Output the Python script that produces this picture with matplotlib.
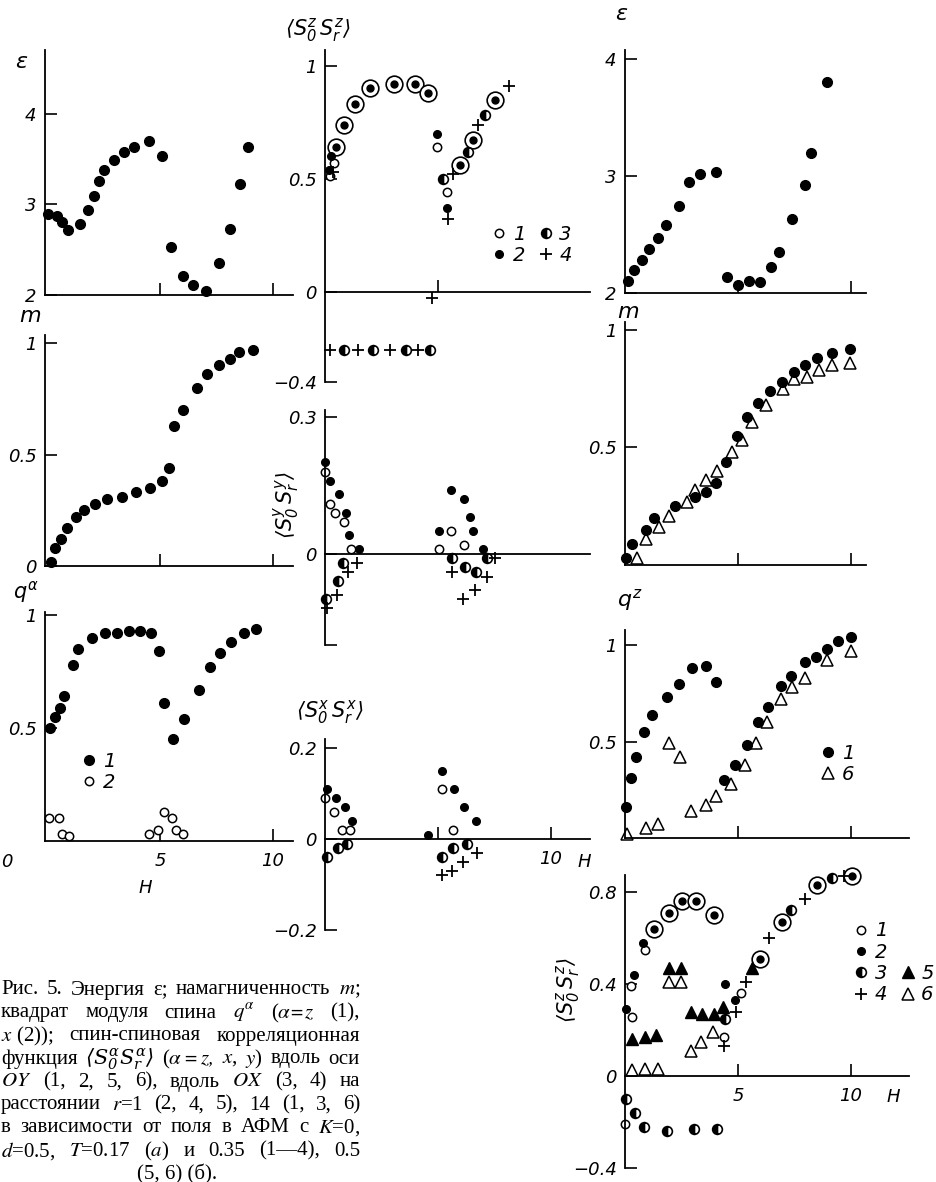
import matplotlib.pyplot as plt
from matplotlib.lines import Line2D

# ---- data (H = field) ----
# (a) T = 0.17 : energy, magnetisation, squared spin modulus
eps_a_h = [0.04, 0.44, 0.66, 0.93, 1.46, 1.81, 2.08, 2.30, 2.52, 2.96, 3.41, 3.85, 4.51, 5.09, 5.49,
           6.02, 6.46, 7.04, 7.61, 8.10, 8.54, 8.89]
eps_a_v = [2.90, 2.87, 2.81, 2.72, 2.78, 2.94, 3.09, 3.26, 3.38, 3.49, 3.58, 3.64, 3.70, 3.54, 2.53,
           2.21, 2.11, 2.04, 2.35, 2.73, 3.23, 3.64]
m_a_h = [0.18, 0.35, 0.62, 0.88, 1.28, 1.64, 2.12, 2.65, 3.32, 3.94, 4.56, 5.09, 5.40, 5.62, 6.02,
         6.64, 7.08, 7.61, 8.10, 8.50, 9.12]
m_a_v = [0.02, 0.08, 0.12, 0.17, 0.22, 0.25, 0.28, 0.30, 0.31, 0.33, 0.35, 0.38, 0.44, 0.63, 0.70,
         0.80, 0.86, 0.90, 0.93, 0.96, 0.97]
qz_a_h = [0.13, 0.35, 0.58, 0.75, 1.15, 1.37, 1.99, 2.57, 3.10, 3.63, 4.12, 4.60, 4.96, 5.18, 5.58,
          6.06, 6.73, 7.21, 7.65, 8.14, 8.72, 9.25]
qz_a_v = [0.50, 0.55, 0.59, 0.64, 0.78, 0.85, 0.90, 0.92, 0.92, 0.93, 0.93, 0.92, 0.84, 0.61, 0.45,
          0.54, 0.67, 0.77, 0.83, 0.88, 0.92, 0.94]
qx_a_h = [0.09, 0.53, 0.66, 0.97, 4.51, 4.91, 5.18, 5.53, 5.71, 6.02]
qx_a_v = [0.10, 0.10, 0.03, 0.02, 0.03, 0.05, 0.13, 0.10, 0.05, 0.03]

# (a) correlation functions <S0^z Sr^z>, curves 1-4; "both" = curves 2 and 3 coincide
zz_both_h = [0.49, 0.84, 1.33, 1.99, 3.05, 3.98, 4.56, 5.97, 6.55, 7.52]
zz_both_v = [0.64, 0.74, 0.83, 0.90, 0.92, 0.92, 0.88, 0.56, 0.67, 0.85]
zz1_h = [0.22, 0.40, 4.96, 5.40]
zz1_v = [0.51, 0.57, 0.64, 0.44]
zz2_h = [0.18, 0.27, 4.96, 5.40]
zz2_v = [0.54, 0.60, 0.70, 0.37]
zz3_h = [5.22, 6.33, 7.08, 0.84, 2.12, 3.58, 4.65]
zz3_v = [0.50, 0.62, 0.78, -0.26, -0.26, -0.26, -0.26]
zz4_h = [0.35, 4.73, 5.44, 5.66, 6.77, 8.14, 0.22, 1.46, 2.88, 4.12]
zz4_v = [0.53, -0.03, 0.32, 0.52, 0.74, 0.91, -0.26, -0.26, -0.26, -0.26]

# <S0^y Sr^y>
yy1_h = [0.0, 0.22, 0.44, 0.84, 1.15, 5.04, 5.58, 6.15]
yy1_v = [0.18, 0.11, 0.09, 0.07, 0.01, 0.01, 0.05, 0.02]
yy2_h = [0.0, 0.22, 0.62, 0.93, 1.06, 1.50, 5.04, 5.58, 6.15, 6.42, 6.55, 6.99]
yy2_v = [0.20, 0.16, 0.13, 0.09, 0.04, 0.01, 0.05, 0.14, 0.12, 0.08, 0.05, 0.01]
yy3_h = [0.04, 0.58, 0.80, 5.62, 6.19, 6.68, 7.17]
yy3_v = [-0.10, -0.06, -0.02, -0.01, -0.03, -0.04, -0.01]
yy4_h = [0.09, 0.53, 1.02, 1.42, 5.62, 6.11, 6.64, 7.17, 7.52]
yy4_v = [-0.12, -0.09, -0.04, -0.02, -0.04, -0.10, -0.08, -0.05, -0.01]

# <S0^x Sr^x>
xx1_h = [0.0, 0.40, 0.75, 1.11, 5.18, 5.66]
xx1_v = [0.09, 0.06, 0.02, 0.02, 0.11, 0.02]
xx2_h = [0.09, 0.49, 0.88, 1.19, 4.56, 5.18, 5.71, 6.15, 6.68]
xx2_v = [0.11, 0.09, 0.07, 0.04, 0.01, 0.15, 0.11, 0.07, 0.04]
xx3_h = [0.09, 0.58, 0.97, 5.18, 5.66, 6.28]
xx3_v = [-0.04, -0.02, -0.01, -0.04, -0.02, -0.01]
xx4_h = [5.18, 5.62, 6.11, 6.73]
xx4_v = [-0.08, -0.07, -0.05, -0.03]

# (b) T = 0.35 / 0.5
eps_b_h = [0.15, 0.40, 0.75, 1.06, 1.46, 1.81, 2.39, 2.83, 3.32, 4.03, 4.51, 5.00, 5.49, 5.97, 6.46,
           6.81, 7.39, 7.96, 8.23, 8.94]
eps_b_v = [2.10, 2.20, 2.28, 2.38, 2.47, 2.58, 2.74, 2.95, 3.02, 3.03, 2.14, 2.07, 2.10, 2.09, 2.22,
           2.35, 2.63, 2.92, 3.20, 3.80]
m1_b_h = [0.05, 0.30, 0.93, 1.28, 2.21, 3.10, 3.58, 4.03, 4.47, 4.96, 5.40, 5.88, 6.42, 6.95, 7.48,
          7.96, 8.50, 9.16, 9.96]
m1_b_v = [0.03, 0.09, 0.15, 0.20, 0.25, 0.29, 0.31, 0.35, 0.44, 0.55, 0.63, 0.69, 0.74, 0.78, 0.82,
          0.85, 0.88, 0.90, 0.92]
m6_b_h = [0.55, 0.93, 1.50, 1.95, 2.74, 3.10, 3.58, 4.07, 4.73, 5.18, 5.62, 6.24, 6.99, 7.48, 8.05,
          8.58, 9.16, 9.96]
m6_b_v = [0.03, 0.11, 0.16, 0.21, 0.27, 0.32, 0.36, 0.40, 0.48, 0.53, 0.61, 0.68, 0.75, 0.79, 0.80,
          0.83, 0.85, 0.86]
q1_b_h = [0.05, 0.25, 0.50, 0.84, 1.19, 1.86, 2.39, 2.96, 3.58, 4.03, 4.38, 4.87, 5.40, 5.88, 6.33,
          6.90, 7.35, 7.96, 8.45, 8.94, 9.42, 10.0]
q1_b_v = [0.16, 0.31, 0.42, 0.55, 0.64, 0.73, 0.80, 0.88, 0.89, 0.81, 0.30, 0.38, 0.48, 0.60, 0.68,
          0.79, 0.84, 0.91, 0.94, 0.98, 1.02, 1.04]
q6_b_h = [0.10, 0.93, 1.46, 1.95, 2.43, 2.92, 3.58, 4.03, 4.69, 5.31, 5.80, 6.28, 6.90, 7.39, 7.96,
          8.94, 10.0]
q6_b_v = [0.02, 0.05, 0.07, 0.49, 0.42, 0.14, 0.17, 0.22, 0.28, 0.38, 0.49, 0.60, 0.72, 0.78, 0.83,
          0.92, 0.97]

# (b) <S0^z Sr^z>, curves 1-6
cb_both_h = [1.28, 1.95, 2.52, 3.14, 3.94, 5.97, 6.95, 8.50, 10.05]
cb_both_v = [0.64, 0.71, 0.76, 0.76, 0.70, 0.51, 0.67, 0.83, 0.87]
cb1_h = [0.25, 0.30, 0.90, 4.38, 0.0, 5.13]
cb1_v = [0.39, 0.255, 0.55, 0.17, -0.21, 0.36]
cb2_h = [0.40, 0.05, 0.80, 4.42, 4.87]
cb2_v = [0.44, 0.29, 0.58, 0.40, 0.33]
cb3_h = [0.05, 0.45, 0.84, 1.86, 3.05, 4.07, 4.42, 7.35, 9.16]
cb3_v = [-0.10, -0.16, -0.22, -0.24, -0.23, -0.23, 0.25, 0.72, 0.86]
cb4_h = [4.38, 4.91, 5.35, 6.37, 7.96, 9.70]
cb4_v = [0.13, 0.28, 0.41, 0.60, 0.77, 0.87]
cb5_h = [0.30, 0.88, 1.37, 1.95, 2.48, 2.92, 3.41, 3.94, 4.34, 5.62]
cb5_v = [0.16, 0.17, 0.18, 0.47, 0.47, 0.28, 0.27, 0.27, 0.30, 0.47]
cb6_h = [0.30, 0.88, 1.46, 1.95, 2.48, 2.92, 3.36, 3.89]
cb6_v = [0.025, 0.03, 0.03, 0.41, 0.41, 0.11, 0.15, 0.19]

caption_lines = [
    ["Рис.", "5.", "Энергия", "ε;", "намагниченность", "$m$;"],
    ["квадрат", "модуля", "спина", r"$q^{\alpha}$", r"($\alpha\!=\!z$", "(1),"],
    ["$x$ (2));", "спин-спиновая", "корреляционная"],
    ["функция", r"$\langle S_0^{\alpha}S_r^{\alpha}\rangle$", r"($\alpha = z,$", "$x$,", "$y$)",
     "вдоль", "оси"],
    ["$OY$", "(1,", "2,", "5,", "6),", "вдоль", "$OX$", "(3,", "4)", "на"],
    ["расстоянии", "$r$=1", "(2,", "4,", "5),", "14", "(1,", "3,", "6)"],
    ["в", "зависимости", "от", "поля", "в", "АФМ", "с", "$K$=0,"],
    ["$d$=0.5,", "$T$=0.17", "($a$)", "и", "0.35", "(1—4),", "0.5"],
]
caption_last = "(5, 6) (б)."

# ---- drawing ----
plt.rcParams['font.family'] = 'DejaVu Sans'
plt.rcParams['font.style'] = 'italic'

W, H = 937, 1182
fig = plt.figure(figsize=(W / 100, H / 100), dpi=100)


def px_axes(x0, x1, ytop, ybot, xlim, ylim, zero_axis=False):
    ax = fig.add_axes([x0 / W, 1 - ybot / H, (x1 - x0) / W, (ybot - ytop) / H])
    ax.set_xlim(*xlim)
    ax.set_ylim(*ylim)
    ax.patch.set_visible(False)
    ax.spines['top'].set_visible(False)
    ax.spines['right'].set_visible(False)
    ax.spines['left'].set_linewidth(1.3)
    ax.spines['bottom'].set_linewidth(1.3)
    if zero_axis:
        ax.spines['bottom'].set_position(('data', 0))
    ax.tick_params(direction='in', length=8.5, width=1.2, labelsize=13, pad=6)
    ax.tick_params(axis='x', pad=8)
    return ax


def text(x, y, s, **kw):
    kw.setdefault('ha', 'center')
    kw.setdefault('va', 'center')
    kw.setdefault('fontsize', 14)
    kw.setdefault('math_fontfamily', 'dejavusans')
    return fig.text(x / W, 1 - y / H, s, **kw)


dot = dict(ls='none', marker='o', color='k', ms=7, clip_on=False)
small_dot = dict(ls='none', marker='o', color='k', ms=5.5, clip_on=False)
ring = dict(ls='none', marker='o', mfc='white', mec='k', ms=6, mew=1.1, clip_on=False)
half = dict(ls='none', marker='o', mfc='k', mfcalt='white', fillstyle='left', mec='k', ms=7,
            mew=1.2, clip_on=False)
cross = dict(ls='none', marker='+', color='k', ms=9, mew=1.3, clip_on=False)
tri = dict(ls='none', marker='^', mfc='white', mec='k', ms=8, mew=1.1, clip_on=False)
tri_f = dict(ls='none', marker='^', color='k', ms=8, clip_on=False)
big_ring = dict(ls='none', marker='o', mfc='white', mec='k', ms=12, mew=1.2, clip_on=False)
center = dict(ls='none', marker='o', color='k', ms=5, clip_on=False)

legend_kw = dict(loc='center', bbox_transform=fig.transFigure, frameon=False, fontsize=14,
                 handlelength=0.7, handletextpad=0.35, labelspacing=0.12, columnspacing=0.7,
                 borderpad=0, borderaxespad=0, numpoints=1)

# left column (a)
left_x = (-0.1, 10.9)
ax = px_axes(45, 293, 50, 295, left_x, (2, 4.707))
ax.plot(eps_a_h, eps_a_v, **dot)
ax.set_yticks([2, 3, 4], labels=['2', '3', '4'])
ax.set_xticks([5, 10], labels=['', ''])
text(22, 62, r'$\varepsilon$', fontsize=16)

ax = px_axes(45, 293, 335, 566, left_x, (0, 1.036))
ax.plot(m_a_h, m_a_v, **dot)
ax.set_yticks([0, 0.5, 1], labels=['0', '0.5', '1'])
ax.set_xticks([5, 10], labels=['', ''])
text(30, 316, '$m$', fontsize=16)

ax = px_axes(45, 293, 612, 841, left_x, (0, 1.013))
l1, = ax.plot(qz_a_h, qz_a_v, **dot)
l2, = ax.plot(qx_a_h, qx_a_v, **ring)
ax.set_yticks([0.5, 1], labels=['0.5', '1'])
ax.set_xticks([5, 10], labels=['5', '10'])
ax.legend([l1, l2], ['1', '2'], bbox_to_anchor=(99 / W, 1 - 772 / H), **legend_kw)
text(26, 592, r'$q^{\alpha}$', fontsize=15)
text(7, 862, '0', fontsize=13)
text(145, 888, 'H', fontsize=13)

# middle column: correlation functions (a)
mid_x = (0, 11.73)
ax = px_axes(325, 590, 50, 382, mid_x, (-0.4, 1.07), zero_axis=True)
ax.plot(zz_both_h, zz_both_v, **big_ring)
ax.plot(zz_both_h, zz_both_v, **center)
h1, = ax.plot(zz1_h, zz1_v, **ring)
h2, = ax.plot(zz2_h, zz2_v, **small_dot)
h3, = ax.plot(zz3_h, zz3_v, **half)
h4, = ax.plot(zz4_h, zz4_v, **cross)
ax.set_yticks([-0.4, 0, 0.5, 1], labels=['\u22120.4', '0', '0.5', '1'])
ax.set_xticks([5], labels=[''])
ax.legend([h1, h2, h3, h4], ['1', '2', '3', '4'], ncol=2,
          bbox_to_anchor=(532 / W, 1 - 245 / H), **legend_kw)
text(318, 30, r'$\langle S_0^z\, S_r^z\rangle$', fontsize=15)

ax = px_axes(325, 590, 410, 645, mid_x, (-0.2, 0.315), zero_axis=True)
ax.plot(yy1_h, yy1_v, **ring)
ax.plot(yy2_h, yy2_v, **small_dot)
ax.plot(yy3_h, yy3_v, **half)
ax.plot(yy4_h, yy4_v, **cross)
ax.set_yticks([-0.2, 0, 0.3], labels=['', '0', '0.3'])
ax.set_xticks([])
text(287, 505, r'$\langle S_0^y\, S_r^y\rangle$', fontsize=15, rotation=90)

ax = px_axes(325, 590, 739, 930, mid_x, (-0.2, 0.22), zero_axis=True)
ax.plot(xx1_h, xx1_v, **ring)
ax.plot(xx2_h, xx2_v, **small_dot)
ax.plot(xx3_h, xx3_v, **half)
ax.plot(xx4_h, xx4_v, **cross)
ax.set_yticks([-0.2, 0, 0.2], labels=['\u22120.2', '0', '0.2'])
ax.set_xticks([5, 10], labels=['', '10'])
text(330, 712, r'$\langle S_0^x\, S_r^x\rangle$', fontsize=15)
text(584, 862, 'H', fontsize=13)

# right column (b)
ax = px_axes(625, 866, 50, 293, (0, 10.66), (2, 4.077))
ax.plot(eps_b_h, eps_b_v, **dot)
ax.set_yticks([2, 3, 4], labels=['2', '3', '4'])
ax.set_xticks([5, 10], labels=['', ''])
text(622, 14, r'$\varepsilon$', fontsize=16)

ax = px_axes(625, 866, 322, 565, (0, 10.66), (0, 1.034))
ax.plot(m6_b_h, m6_b_v, **tri)
ax.plot(m1_b_h, m1_b_v, **dot)
ax.set_yticks([0.5, 1], labels=['0.5', '1'])
ax.set_xticks([5, 10], labels=['', ''])
text(628, 312, '$m$', fontsize=16)

ax = px_axes(625, 909, 630, 838, (0, 12.57), (0, 1.078))
g6, = ax.plot(q6_b_h, q6_b_v, **tri)
g1, = ax.plot(q1_b_h, q1_b_v, **dot)
ax.set_yticks([0.5, 1], labels=['0.5', '1'])
ax.set_xticks([5, 10], labels=['', ''])
ax.legend([g1, g6], ['1', '6'], bbox_to_anchor=(838 / W, 1 - 764 / H), **legend_kw)
text(630, 600, r'$q^{z}$', fontsize=16)

ax = px_axes(625, 909, 875, 1168, (0, 12.57), (-0.4, 0.874), zero_axis=True)
ax.plot(cb_both_h, cb_both_v, **big_ring)
ax.plot(cb_both_h, cb_both_v, **center)
k6, = ax.plot(cb6_h, cb6_v, **tri)
k5, = ax.plot(cb5_h, cb5_v, **tri_f)
k1, = ax.plot(cb1_h, cb1_v, **ring)
k2, = ax.plot(cb2_h, cb2_v, **small_dot)
k3, = ax.plot(cb3_h, cb3_v, **half)
k4, = ax.plot(cb4_h, cb4_v, **cross)
ax.set_yticks([-0.4, 0, 0.4, 0.8], labels=['\u22120.4', '0', '0.4', '0.8'])
ax.set_xticks([5, 10], labels=['5', '10'])
blank = Line2D([], [], ls='none', marker='none')
ax.legend([k1, k2, k3, k4, blank, blank, k5, k6], ['1', '2', '3', '4', '', '', '5', '6'], ncol=2,
          bbox_to_anchor=(894 / W, 1 - 963 / H), **legend_kw)
text(568, 990, r'$\langle S_0^z\, S_r^z\rangle$', fontsize=15, rotation=90)
text(893, 1097, 'H', fontsize=13)

# caption, justified between x = 1 and x = 360
renderer = fig.canvas.get_renderer()
cap_kw = dict(family='Liberation Serif', fontstyle='normal', fontsize=15, ha='left', va='center')
for i, words in enumerate(caption_lines):
    y = 990 + 23 * i
    items = [text(0, y, w, math_fontfamily='dejavuserif' if 'langle' in w else 'stix', **cap_kw)
             for w in words]
    widths = [t.get_window_extent(renderer).width for t in items]
    gap = (359 - sum(widths)) / (len(words) - 1)
    x = 1
    for t, w in zip(items, widths):
        t.set_x(x / W)
        x += w + gap
text(177, 990 + 23 * len(caption_lines), caption_last, family='Liberation Serif',
     fontstyle='normal', fontsize=15)

fig.savefig('out.png', dpi=100)
